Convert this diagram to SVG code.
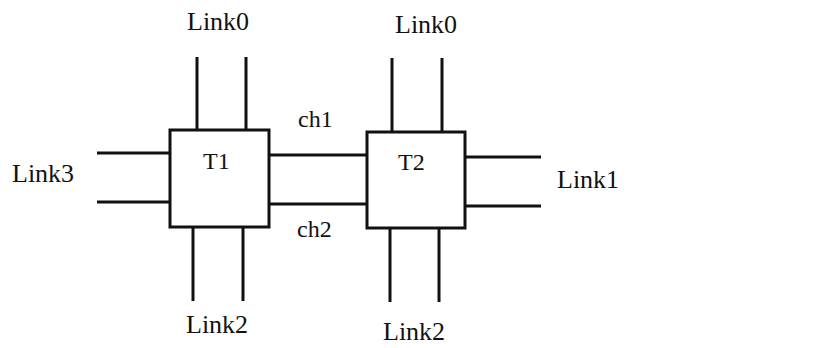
<svg xmlns="http://www.w3.org/2000/svg" width="839" height="348" viewBox="0 0 839 348">
<style>
.box{fill:#fff;stroke:#111;stroke-width:3}
.ln{stroke:#111;stroke-width:3;fill:none}
text{font-family:"Liberation Serif","Times New Roman",serif;fill:#111}
.lk{font-size:26px}
.nm{font-size:24px}
</style>
<rect width="839" height="348" fill="#fff"/>
<g id="connectors">
<line class="ln" x1="197" y1="57" x2="197" y2="130"/>
<line class="ln" x1="246" y1="57" x2="246" y2="130"/>
<line class="ln" x1="193" y1="227" x2="193" y2="301"/>
<line class="ln" x1="243" y1="227" x2="243" y2="301"/>
<line class="ln" x1="97" y1="153" x2="170" y2="153"/>
<line class="ln" x1="97" y1="202" x2="170" y2="202"/>
<line class="ln" x1="269" y1="155" x2="367" y2="155"/>
<line class="ln" x1="269" y1="204" x2="367" y2="204"/>
<line class="ln" x1="392" y1="58" x2="392" y2="132"/>
<line class="ln" x1="442" y1="58" x2="442" y2="132"/>
<line class="ln" x1="390" y1="228" x2="390" y2="302"/>
<line class="ln" x1="439" y1="228" x2="439" y2="302"/>
<line class="ln" x1="465" y1="157" x2="541" y2="157"/>
<line class="ln" x1="465" y1="206" x2="541" y2="206"/>
<text class="nm" x="298" y="127">ch1</text>
<text class="nm" x="297" y="237">ch2</text>
<text class="lk" x="187" y="30">Link0</text>
<text class="lk" x="395" y="33">Link0</text>
<text class="lk" x="12" y="182">Link3</text>
<text class="lk" x="557" y="188">Link1</text>
<text class="lk" x="186" y="333">Link2</text>
<text class="lk" x="383" y="340">Link2</text>
</g>
<g id="T1">
<rect class="box" x="170" y="130" width="99" height="97"/>
<text class="nm" x="203" y="169">T1</text>
</g>
<g id="T2">
<rect class="box" x="367" y="132" width="98" height="96"/>
<text class="nm" x="398" y="170">T2</text>
</g>
</svg>
